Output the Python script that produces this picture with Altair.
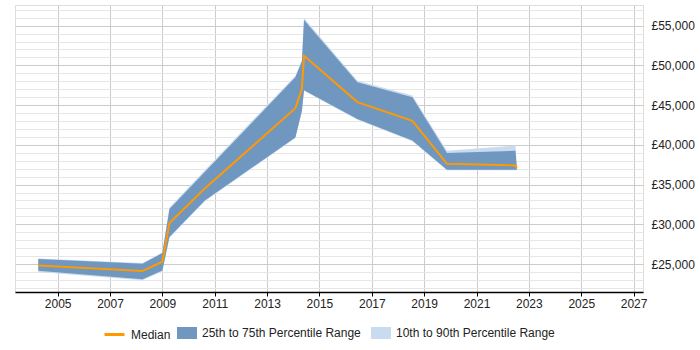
import altair as alt
import pandas as pd

years = [2004.26, 2008.24, 2009.0, 2009.27, 2010.62, 2014.08, 2014.33, 2014.41,
         2016.45, 2018.55, 2019.87, 2022.49, 2022.54]
p10 = [24000, 22950, 24100, 28300, 32900, 40850, 44150, 46800,
       43150, 40450, 36800, 36800, 36800]
p25 = [24150, 23100, 24200, 28400, 33000, 40930, 44300, 46880,
       43240, 40550, 36860, 36860, 36860]
median = [24820, 24120, 25290, 30160, 34500, 44620, 47050, 51200,
          45380, 43030, 37620, 37400, 37030]
p75 = [25630, 25040, 26380, 31920, 36580, 48520, 50480, 55700,
       47890, 46000, 38960, 39250, 37100]
p90 = [25700, 25120, 26450, 32100, 36800, 48700, 50700, 55950,
       48080, 46220, 39250, 39920, 37150]

x_ticks = [2005, 2007, 2009, 2011, 2013, 2015, 2017, 2019, 2021, 2023, 2025, 2027]
y_ticks = list(range(22000, 58000, 1000))

LBL_MED = "Median"
LBL_IQR = "25th to 75th Percentile Range"
LBL_DEC = "10th to 90th Percentile Range"

df = pd.DataFrame({"year": years, "p10": p10, "p25": p25, "median": median,
                   "p75": p75, "p90": p90})
df["iqr"] = LBL_IQR
df["dec"] = LBL_DEC
df["med"] = LBL_MED

FONT = "Liberation Sans"
DARK = "#7097c0"
LIGHT = "#c9dbee"
ORANGE = "#ff9900"

xscale = alt.Scale(domain=[2003.37, 2027.36], nice=False, zero=False)
yscale = alt.Scale(domain=[21480, 57600], nice=False, zero=False)

x_axis = alt.Axis(values=x_ticks, tickCount=100, format="d", title=None, grid=True,
                  gridColor="#cccccc", domainColor="#000000", domainWidth=1.5,
                  tickColor="#000000", tickSize=4, labelPadding=2,
                  labelFontSize=12, labelFont=FONT, labelColor="#222222")
y_axis = alt.Axis(values=y_ticks, tickCount=100, orient="right", title=None, grid=True,
                  gridColor={"condition": {"test": "datum.value % 5000 === 0", "value": "#cccccc"},
                             "value": "#e6e6e6"},
                  domain=False, ticks=False, labelPadding=8, labelOverlap=False,
                  labelExpr="datum.value % 5000 === 0 ? '£' + format(datum.value, ',') : ''",
                  labelFontSize=12, labelFont=FONT, labelColor="#222222")

RECT = "M-1,-0.6H1V0.6H-1Z"
fill_scale = alt.Scale(domain=[LBL_IQR, LBL_DEC], range=[DARK, LIGHT])
fill_legend = alt.Legend(title=None, orient="none", legendX=162, legendY=318,
                         direction="horizontal", symbolType=RECT, symbolSize=400,
                         symbolStrokeWidth=0, labelFontSize=12, labelFont=FONT,
                         labelColor="#222222", columnPadding=10, labelOffset=5)

base = alt.Chart(df)

dec = base.mark_area(opacity=1).encode(
    x=alt.X("year:Q", scale=xscale, axis=x_axis),
    y=alt.Y("p10:Q", scale=yscale, axis=y_axis),
    y2="p90:Q",
    fill=alt.Fill("dec:N", scale=fill_scale, legend=fill_legend),
)
iqr = base.mark_area(opacity=1).encode(
    x=alt.X("year:Q", scale=xscale),
    y=alt.Y("p25:Q", scale=yscale),
    y2="p75:Q",
    fill=alt.Fill("iqr:N", scale=fill_scale, legend=fill_legend),
)
med = base.mark_line(strokeWidth=2).encode(
    x=alt.X("year:Q", scale=xscale),
    y=alt.Y("median:Q", scale=yscale),
    stroke=alt.Stroke("med:N", scale=alt.Scale(domain=[LBL_MED], range=[ORANGE]),
                      legend=alt.Legend(title=None, orient="none", legendX=88, legendY=318,
                                        symbolType="stroke", symbolSize=400,
                                        symbolStrokeWidth=3, labelFontSize=12,
                                        labelFont=FONT, labelColor="#222222",
                                        labelOffset=5)),
)

chart = alt.layer(dec, iqr, med).properties(
    width=628, height=287,
    padding={"left": 15, "top": 5, "right": 57, "bottom": 58},
    autosize=alt.AutoSizeParams(type="none"),
).configure_view(stroke=None).configure(background="white")

chart.save("out.html", embed_options={"renderer": "svg", "actions": False})
